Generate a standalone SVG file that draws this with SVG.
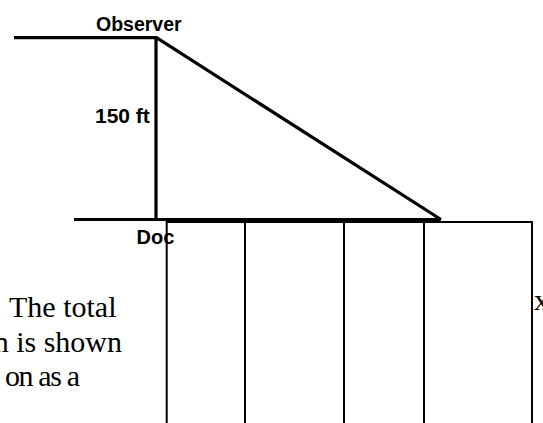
<svg xmlns="http://www.w3.org/2000/svg" width="543" height="423" viewBox="0 0 543 423">
  <style>
    .thick { stroke: #000; stroke-width: 3.2; fill: none; stroke-linecap: butt; }
    .thin { stroke: #000; stroke-width: 2; fill: none; }
    .lbl { font-family: "Liberation Sans", Arial, sans-serif; font-weight: bold; fill: #000; }
    .body { font-family: "Liberation Serif", "Times New Roman", serif; font-size: 30px; fill: #000; }
  </style>
  <rect width="543" height="423" fill="#fff"/>
  <g id="paragraph">
    <text class="body" x="9" y="316.5">The total</text>
    <text class="body" x="122" y="352" text-anchor="end">n is shown</text>
    <text class="body" x="5" y="386" textLength="75" lengthAdjust="spacing">on as a</text>
    <text class="body" x="534" y="310">x</text>
  </g>
  <g id="connectors">
    <line class="thick" x1="14" y1="37.7" x2="157.5" y2="37.7"/>
    <line class="thick" x1="156" y1="37.7" x2="156" y2="219.5"/>
    <line class="thick" x1="156.5" y1="37.7" x2="441" y2="219.5" stroke-linecap="round"/>
    <line class="thick" x1="74" y1="219.5" x2="441" y2="219.5"/>
  </g>
  <g id="observer">
    <text class="lbl" x="96" y="30.5" font-size="19.5">Observer</text>
  </g>
  <g id="height-label">
    <text class="lbl" x="95" y="122.5" font-size="21">150 ft</text>
  </g>
  <g id="dock">
    <text class="lbl" x="136.5" y="244.3" font-size="20">Doc</text>
  </g>
  <g id="table">
    <rect x="166.7" y="222" width="365.3" height="210" fill="#fff" class="thin"/>
    <line class="thin" x1="245" y1="222" x2="245" y2="423"/>
    <line class="thin" x1="344" y1="222" x2="344" y2="423"/>
    <line class="thin" x1="424" y1="222" x2="424" y2="423"/>
  </g>
</svg>
